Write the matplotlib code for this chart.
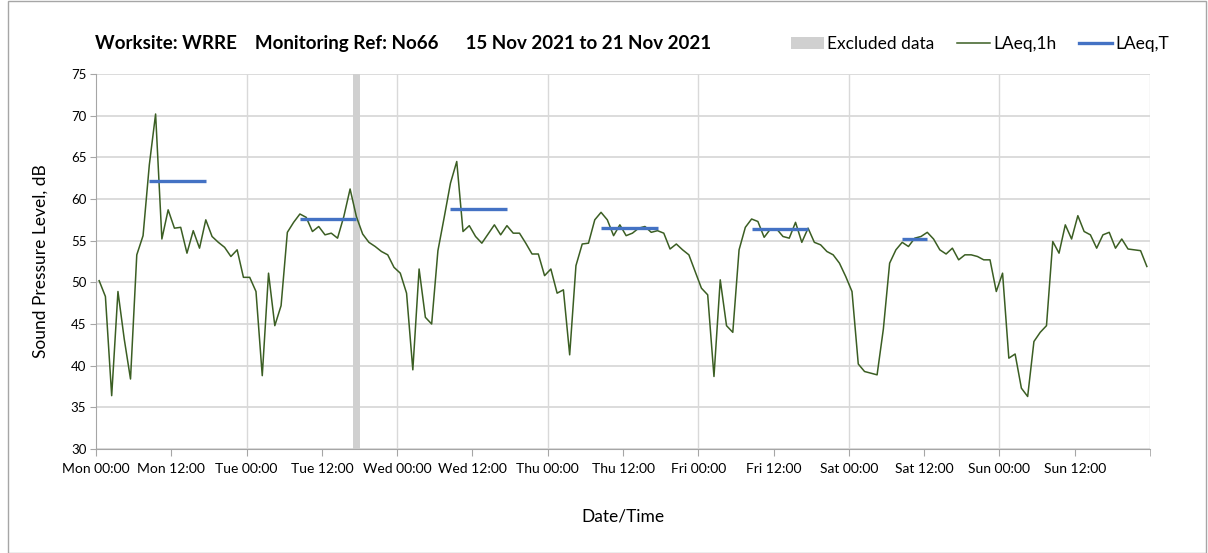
import numpy as np
import matplotlib.pyplot as plt
from matplotlib.patches import Patch, Rectangle
from matplotlib.lines import Line2D

plt.rcParams['font.family'] = ['Lato', 'DejaVu Sans']

# hourly LAeq,1h, Mon 00:00 .. Sun 23:00
laeq_1h = [
    50.2, 48.3, 36.4, 48.9, 43.2, 38.4, 53.3, 55.6, 64.1, 70.2, 55.2, 58.7,
    56.5, 56.6, 53.5, 56.2, 54.1, 57.5, 55.5, 54.8, 54.2, 53.1, 53.9, 50.6,
    50.6, 48.9, 38.8, 51.1, 44.8, 47.2, 56.0, 57.2, 58.2, 57.8, 56.1, 56.7,
    55.7, 55.9, 55.3, 57.9, 61.2, 57.9, 55.8, 54.8, 54.3, 53.7, 53.3, 51.8,
    51.1, 48.7, 39.5, 51.6, 45.8, 45.0, 53.8, 57.8, 61.9, 64.5, 56.1, 56.8,
    55.5, 54.7, 55.8, 56.9, 55.7, 56.8, 55.9, 55.9, 54.7, 53.4, 53.4, 50.8,
    51.6, 48.7, 49.1, 41.3, 52.0, 54.6, 54.7, 57.5, 58.4, 57.5, 55.6, 56.9,
    55.6, 55.9, 56.5, 56.7, 56.0, 56.2, 55.9, 54.0, 54.6, 53.9, 53.3, 51.3,
    49.3, 48.5, 38.7, 50.3, 44.8, 44.0, 53.9, 56.6, 57.6, 57.3, 55.4, 56.4,
    56.4, 55.5, 55.3, 57.2, 54.8, 56.5, 54.8, 54.5, 53.7, 53.3, 52.3, 50.7,
    48.9, 40.2, 39.3, 39.1, 38.9, 44.4, 52.3, 53.9, 54.8, 54.3, 55.3, 55.5,
    56.0, 55.2, 53.9, 53.4, 54.1, 52.7, 53.3, 53.3, 53.1, 52.7, 52.7, 48.9,
    51.1, 40.9, 41.4, 37.3, 36.3, 42.9, 44.0, 44.8, 54.9, 53.5, 56.9, 55.2,
    58.0, 56.1, 55.7, 54.1, 55.7, 56.0, 54.1, 55.2, 54.0, 53.9, 53.8, 51.9,
]

# LAeq,T periods (first and last hour of each period)
laeq_t_start = [8, 32, 56, 80, 104, 128]
laeq_t_end = [17, 41, 65, 89, 113, 132]
laeq_t = [62.2, 57.6, 58.8, 56.55, 56.35, 55.2]

# excluded hours
excluded_start = [41]
excluded_end = [42]

tick_labels = ['Mon 00:00', 'Mon 12:00', 'Tue 00:00', 'Tue 12:00', 'Wed 00:00',
               'Wed 12:00', 'Thu 00:00', 'Thu 12:00', 'Fri 00:00', 'Fri 12:00',
               'Sat 00:00', 'Sat 12:00', 'Sun 00:00', 'Sun 12:00']

W, H = 1208, 553
fig = plt.figure(figsize=(W / 100, H / 100), dpi=100)
ax = fig.add_axes([96 / W, 1 - 449 / H, (1150 - 96) / W, (449 - 74) / H])

hours = np.arange(len(laeq_1h)) + 0.5

for s, e in zip(excluded_start, excluded_end):
    ax.axvspan(s, e, color='#d0d0d0', lw=0, zorder=2)

ax.plot(hours, laeq_1h, color='#3b5e23', lw=1.1, zorder=3)
ax.hlines(laeq_t, np.array(laeq_t_start) + 0.5, np.array(laeq_t_end) + 0.5,
          color='#4472c4', lw=2.4, zorder=4)

ax.set_xlim(0, 168)
ax.set_ylim(30, 75)
ax.set_yticks(np.arange(30, 76, 5))
ax.set_xticks(np.arange(0, 168, 12))
ax.set_xticks([168], minor=True)
ax.set_xticklabels(tick_labels, fontsize=10)
ax.tick_params(axis='y', labelsize=9.5, length=4, color='#a6a6a6', pad=3)
ax.tick_params(axis='x', which='both', length=5, color='#a6a6a6', pad=5)

ax.grid(axis='y', color='#d9d9d9', lw=1.3, zorder=1)
for d in range(24, 169, 24):
    ax.axvline(d, color='#d9d9d9', lw=1.0, zorder=1)

for side in ['top', 'right']:
    ax.spines[side].set_visible(False)
ax.spines['left'].set_color('#a6a6a6')
ax.spines['bottom'].set_color('#a6a6a6')
ax.set_axisbelow(True)

ax.set_ylabel('Sound Pressure Level, dB', fontsize=12.5, labelpad=16)
ax.set_xlabel('Date/Time', fontsize=12.5, labelpad=24)

fig.text(95 / W, 1 - 43 / H,
         'Worksite: WRRE    Monitoring Ref: No66      15 Nov 2021 to 21 Nov 2021',
         fontsize=13.5, fontweight='bold', va='center', ha='left')

handles = [Patch(facecolor='#d0d0d0', edgecolor='none'),
           Line2D([], [], color='#3b5e23', lw=1.1),
           Line2D([], [], color='#4472c4', lw=2.4)]
fig.legend(handles, ['Excluded data', 'LAeq,1h', 'LAeq,T'], ncol=3,
           loc='center', bbox_to_anchor=(980 / W, 1 - 44 / H), frameon=False,
           fontsize=12.5, handlelength=1.9, handletextpad=0.2, columnspacing=1.3)

fig.patches.append(Rectangle((8 / W, 0), (1206 - 8) / W, 1 - 1 / H,
                             transform=fig.transFigure, fill=False,
                             edgecolor='#a6a6a6', lw=1))

fig.savefig('out.png', dpi=100)
